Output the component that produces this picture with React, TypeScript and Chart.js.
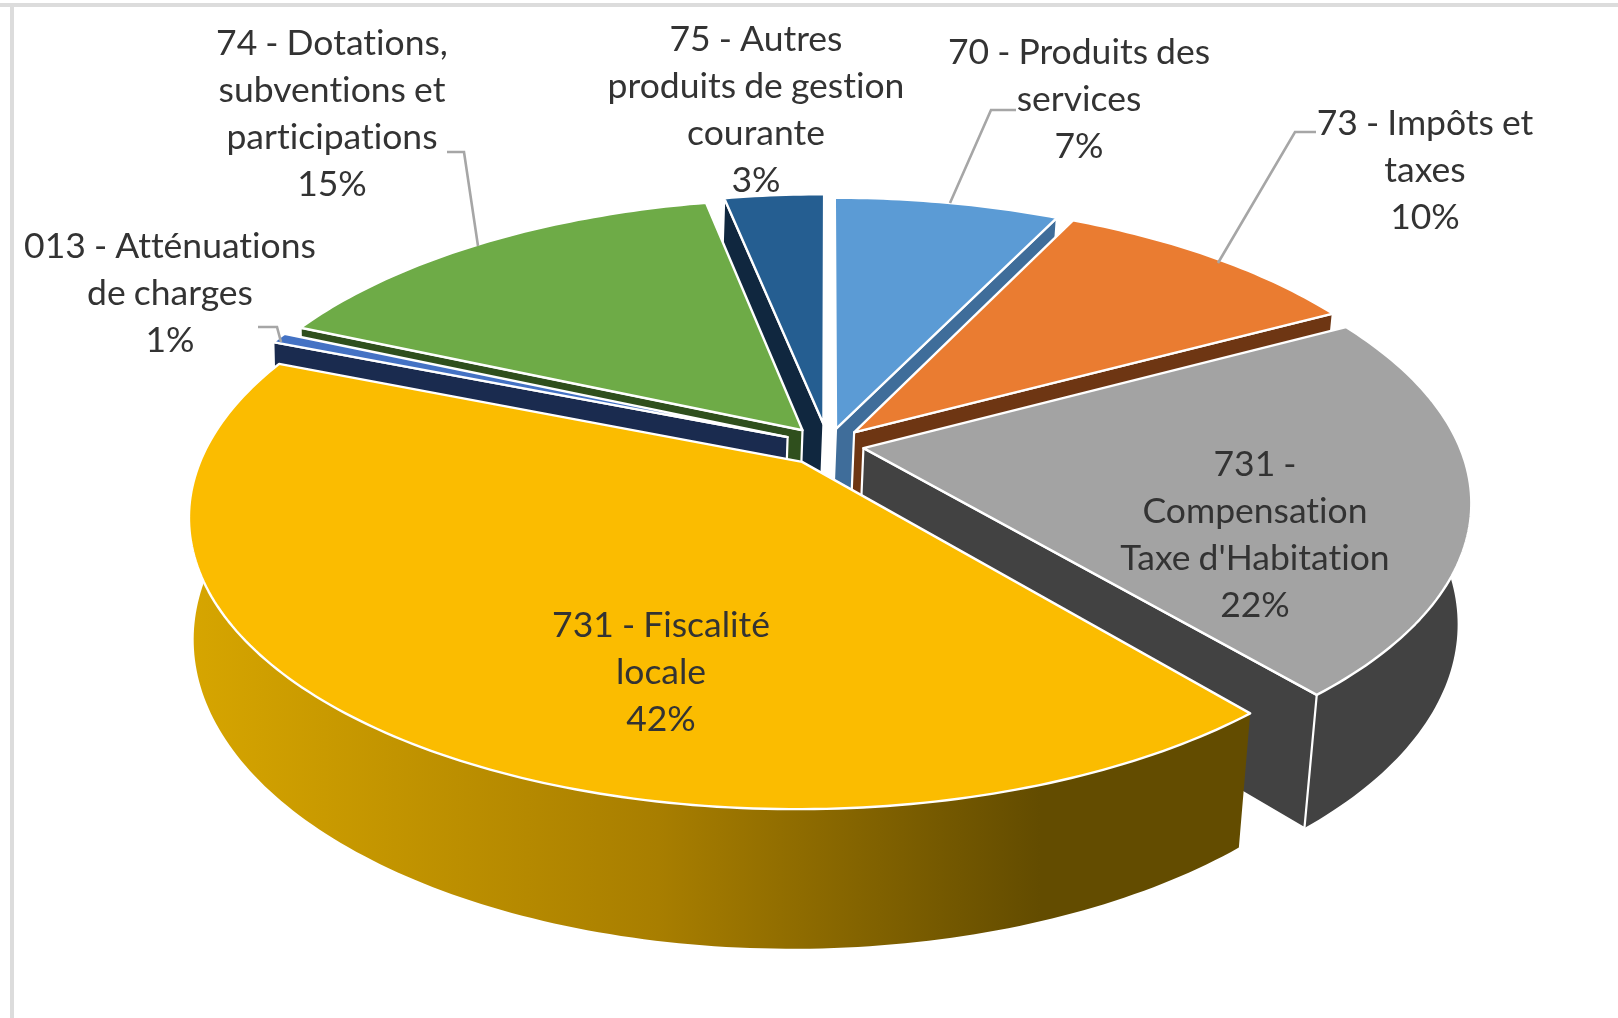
import React, { useEffect, useRef } from "react";
import { Chart, registerables } from "chart.js";

Chart.register(...registerables);

const categories = [
  "70 - Produits des services",
  "73 - Impôts et taxes",
  "731 - Compensation Taxe d'Habitation",
  "731 - Fiscalité locale",
  "013 - Atténuations de charges",
  "74 - Dotations, subventions et participations",
  "75 - Autres produits de gestion courante",
];
const values = [7.2, 10, 21.6, 42.2, 0.6, 15.2, 3.2];
const topColors = ["#5B9BD5", "#EA7C31", "#A3A3A3", "#FBBC00", "#4472C4", "#6EAB47", "#255E91"];
const wallColors = ["#3F6D9A", "#6E3613", "#424242", "#634C00", "#1A2B4F", "#2F4F1D", "#10273F"];
const explode = [36, 38, 36, 44, 44, 41, 46];

const labelLines = [
  ["70 - Produits des", "services"],
  ["73 - Impôts et", "taxes"],
  ["731 -", "Compensation", "Taxe d'Habitation"],
  ["731 - Fiscalité", "locale"],
  ["013 - Atténuations", "de charges"],
  ["74 - Dotations,", "subventions et", "participations"],
  ["75 - Autres", "produits de gestion", "courante"],
];
const labelCentreX = [1079, 1425, 1255, 661, 170, 332, 756];
const labelFirstY = [53, 124, 465, 626, 247, 44, 40];
const LINE_STEP = 47;
const leaderLines: number[][][] = [
  [[950, 203], [991, 110], [1016, 110]],
  [[1218, 263], [1295, 132], [1316, 132]],
  [],
  [],
  [[258, 327], [277, 327], [281, 342]],
  [[447, 152], [464, 152], [478, 246]],
  [],
];

// Perspective camera of the disc
const cam = { cx: 828, cy: 445, a: 595.5, b: 278, k: 0.18, d: 0.014, h: 120, lowShift: -4.5 };

function project(u: number, v: number, low: boolean): [number, number] {
  const w = 1 - cam.k * v;
  if (!low) return [cam.cx + (cam.a * u) / w, cam.cy + (cam.b * v) / w];
  return [cam.cx + cam.lowShift + (cam.a * u) / (w + cam.d), cam.cy + (cam.b * v + cam.h) / (w + cam.d)];
}

function poly(ctx: CanvasRenderingContext2D, pts: [number, number][]) {
  ctx.beginPath();
  pts.forEach((p, i) => (i ? ctx.lineTo(p[0], p[1]) : ctx.moveTo(p[0], p[1])));
  ctx.closePath();
}

const pie3d = {
  id: "pie3d",
  beforeDatasetDraw: () => false,
  afterDatasetsDraw(chart: any) {
    const ctx: CanvasRenderingContext2D = chart.ctx;
    const meta = chart.getDatasetMeta(0);

    // frame of the screenshot
    ctx.fillStyle = "#DCDCDC";
    ctx.fillRect(0, 3, 1618, 4);
    ctx.fillRect(10, 3, 4, 1015);

    const items = meta.data.map((el: any, i: number) => {
      const p = el.getProps(["startAngle", "endAngle"], true);
      const t0 = p.startAngle + Math.PI / 2;
      const t1 = p.endAngle + Math.PI / 2;
      const mid = (t0 + t1) / 2;
      return { i, t0, t1, mid, e: el.options.offset / cam.a };
    });
    items.sort((x: any, y: any) => -Math.cos(x.mid) + Math.cos(y.mid));

    ctx.save();
    ctx.lineJoin = "round";
    ctx.strokeStyle = "#FFFFFF";
    for (const it of items) {
      const ou = it.e * Math.sin(it.mid);
      const ov = -it.e * Math.cos(it.mid);
      const angles: number[] = [];
      const n = Math.max(4, Math.ceil((it.t1 - it.t0) * 60));
      for (let s = 0; s <= n; s++) angles.push(it.t0 + ((it.t1 - it.t0) * s) / n);
      const at = (t: number, low: boolean) => project(ou + Math.sin(t), ov - Math.cos(t), low);
      const topRim = angles.map((t) => at(t, false));
      const lowRim = angles.map((t) => at(t, true));
      const apexTop = project(ou, ov, false);
      const apexLow = project(ou, ov, true);

      // outer wall, only on the part of the rim that faces the viewer
      const front = angles.filter((t) => -Math.cos(t) > -0.15);
      if (front.length > 1) {
        let fill: any = wallColors[it.i];
        if (it.i === 3) {
          const g = ctx.createLinearGradient(193, 0, 1040, 0);
          g.addColorStop(0, "#D6A500");
          g.addColorStop(0.55, "#A87E00");
          g.addColorStop(1, "#634C00");
          fill = g;
        }
        poly(ctx, [...front.map((t) => at(t, false)), ...front.slice().reverse().map((t) => at(t, true))]);
        ctx.fillStyle = fill;
        ctx.fill();
      }
      // radial walls, only those that face the viewer
      ctx.lineWidth = 2.2;
      ctx.fillStyle = wallColors[it.i];
      const last = topRim.length - 1;
      if (topRim[0][0] < apexTop[0] - 8) {
        poly(ctx, [apexTop, topRim[0], lowRim[0], apexLow]);
        ctx.fill();
        ctx.stroke();
      }
      if (topRim[last][0] > apexTop[0] + 8) {
        poly(ctx, [apexTop, topRim[last], lowRim[last], apexLow]);
        ctx.fill();
        ctx.stroke();
      }
      // top face
      poly(ctx, [apexTop, ...topRim]);
      ctx.fillStyle = topColors[it.i];
      ctx.fill();
      ctx.lineWidth = 2.4;
      ctx.stroke();
    }
    ctx.restore();

    // leader lines
    ctx.save();
    ctx.strokeStyle = "#A6A6A6";
    ctx.lineWidth = 2.6;
    leaderLines.forEach((l) => {
      if (!l.length) return;
      ctx.beginPath();
      l.forEach((p, i) => (i ? ctx.lineTo(p[0], p[1]) : ctx.moveTo(p[0], p[1])));
      ctx.stroke();
    });
    ctx.restore();

    // labels
    ctx.save();
    (ctx as any).textRendering = "optimizeSpeed";
    ctx.font = '35.5px Lato, "Open Sans", sans-serif';
    (ctx as any).wordSpacing = "-1px";
    ctx.fillStyle = "#333333";
    ctx.textAlign = "center";
    ctx.textBaseline = "middle";
    categories.forEach((_, i) => {
      const lines = [...labelLines[i], `${Math.round(values[i])}%`];
      lines.forEach((t, j) => ctx.fillText(t, labelCentreX[i], labelFirstY[i] + j * LINE_STEP));
    });
    ctx.restore();
  },
};

export default function App() {
  const ref = useRef<HTMLCanvasElement>(null);
  useEffect(() => {
    const chart = new Chart(ref.current!, {
      type: "pie",
      data: {
        labels: categories,
        datasets: [{ data: values, backgroundColor: topColors, offset: explode, borderColor: "#FFFFFF", borderWidth: 2 }],
      },
      options: {
        responsive: false,
        animation: false,
        plugins: { legend: { display: false }, tooltip: { enabled: false } },
      },
      plugins: [pie3d],
    } as any);
    return () => chart.destroy();
  }, []);
  return (
    <canvas
      ref={ref}
      width={1618}
      height={1018}
      style={{ position: "fixed", left: 0, top: 0, width: 1618, height: 1018, background: "#FFFFFF" }}
    />
  );
}
